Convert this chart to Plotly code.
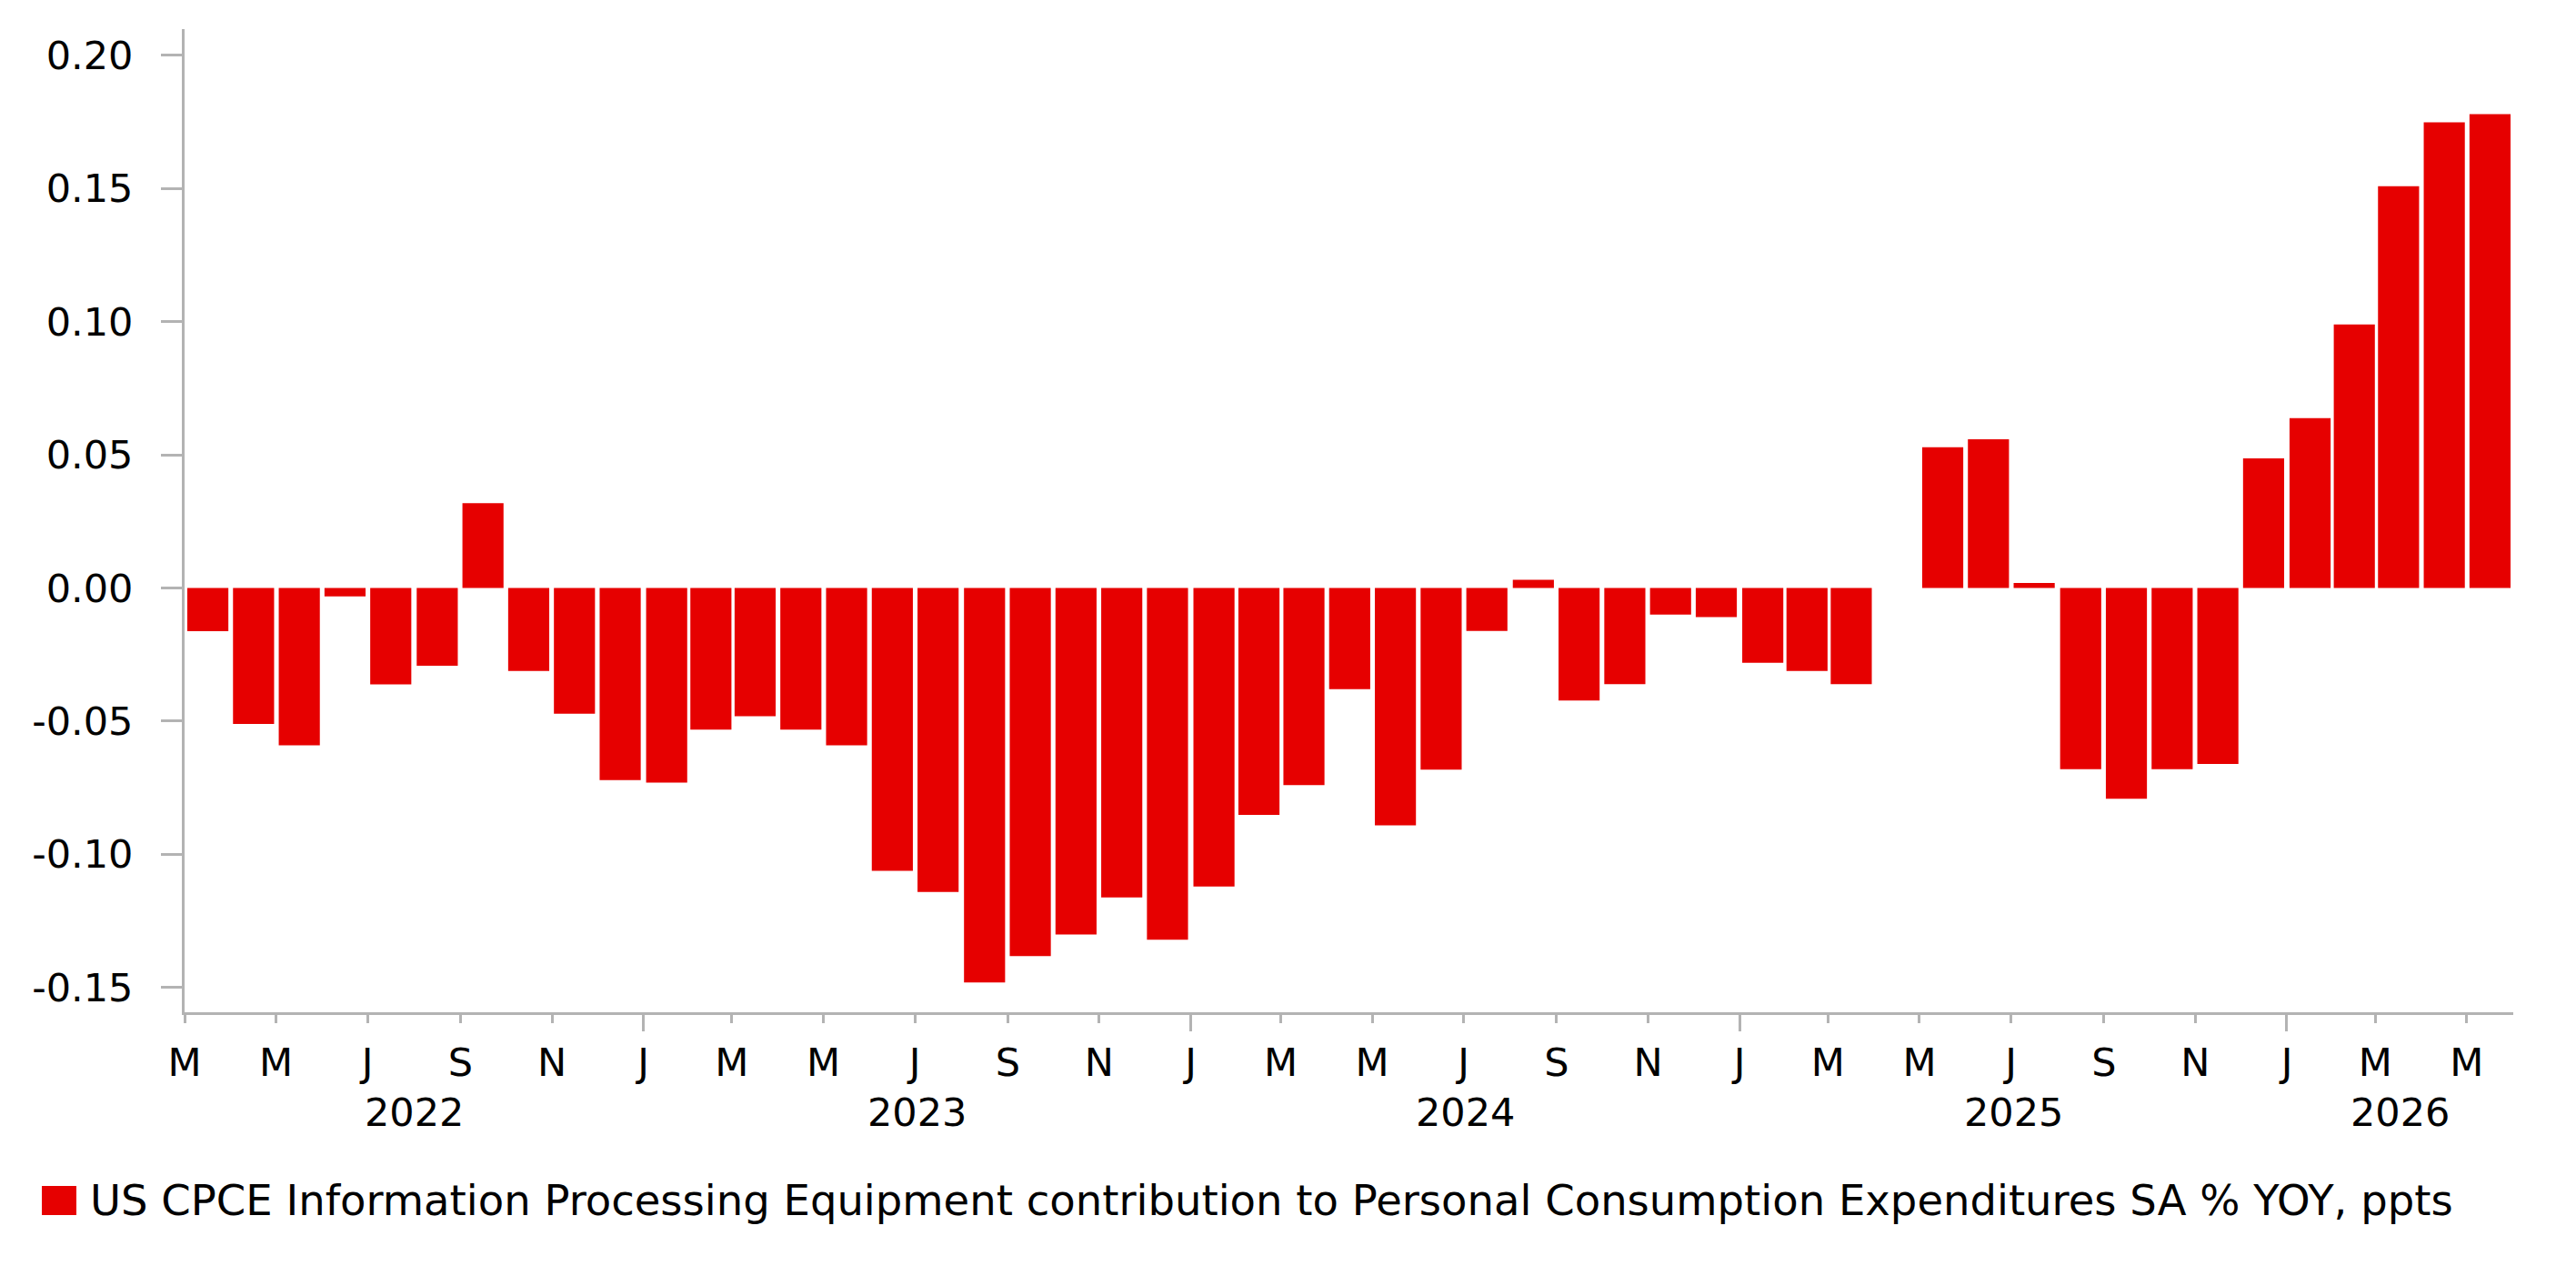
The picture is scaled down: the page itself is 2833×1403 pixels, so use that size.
import plotly.graph_objects as go
import pandas as pd

# ---------------- data ----------------
months = pd.date_range("2022-03-01", periods=51, freq="MS")
values = [
    -0.0162, -0.0510, -0.0591, -0.0031, -0.0362, -0.0292, 0.0319, -0.0311, -0.0472, -0.0721,
    -0.0731, -0.0532, -0.0481, -0.0532, -0.0591, -0.1062, -0.1141, -0.1481, -0.1382, -0.1301,
    -0.1162, -0.1321, -0.1121, -0.0852, -0.0740, -0.0380, -0.0891, -0.0682, -0.0161, 0.0031,
    -0.0422, -0.0361, -0.0100, -0.0109, -0.0281, -0.0311, -0.0361, None, 0.0529, 0.0559,
    0.0019, -0.0680, -0.0791, -0.0680, -0.0661, 0.0487, 0.0638, 0.0990, 0.1509, 0.1749,
    0.1780,
]
series_name = ("US CPCE Information Processing Equipment contribution to "
               "Personal Consumption Expenditures SA % YOY, ppts")

y_ticks = [0.20, 0.15, 0.10, 0.05, 0.00, -0.05, -0.10, -0.15]
y_tick_labels = ["0.20", "0.15", "0.10", "0.05", "0.00", "-0.05", "-0.10", "-0.15"]
month_letters = ["J", "F", "M", "A", "M", "J", "J", "A", "S", "O", "N", "D"]
years = [2022, 2023, 2024, 2025, 2026]

# ---------------- styling ----------------
W, H = 2833, 1403
OFF = 8                      # page body margin in the browser
LP, TP, RP, BP = 203, 32, 2764, 1113   # desired plot area on screen
ML, MT = LP - OFF, TP - OFF
plot_w, plot_h = RP - LP, BP - TP
MR = W - ML - plot_w
MB = H - MT - plot_h
RED = "#E60000"
AX = "#b3b3b3"
FONT = "DejaVu Sans"
FS = 43

x_start = months[0]
x_end = months[-1] + pd.offsets.MonthBegin(1)
x_tick_dates = list(months[::2])
x_tick_labels = [month_letters[d.month - 1] for d in x_tick_dates]
jan_ticks = [pd.Timestamp(f"{y}-01-01") for y in years if x_start < pd.Timestamp(f"{y}-01-01") < x_end]


def px_x(px):
    return (px - LP) / plot_w


def px_y(py):
    return (BP - py) / plot_h


fig = go.Figure()
fig.add_trace(go.Bar(
    x=months, y=values, xperiod="M1", xperiodalignment="middle",
    width=27.4 * 86400000, marker=dict(color=RED, line=dict(width=0)),
    name=series_name, showlegend=False,
))
# invisible trace to carry the long January ticks axis
fig.add_trace(go.Scatter(x=[x_start], y=[0], xaxis="x2", mode="markers",
                         marker=dict(opacity=0), hoverinfo="skip", showlegend=False))

fig.update_layout(
    width=W, height=H,
    margin=dict(l=ML, r=MR, t=MT, b=MB),
    paper_bgcolor="white", plot_bgcolor="white",
    font=dict(family=FONT, size=FS, color="black"),
    showlegend=False,
    xaxis=dict(
        type="date", range=[x_start, x_end],
        tickmode="array", tickvals=x_tick_dates, ticktext=x_tick_labels,
        ticks="outside", ticklen=9, tickwidth=3, tickcolor=AX,
        showline=True, linecolor=AX, linewidth=3,
        showgrid=False, zeroline=False,
        tickfont=dict(family=FONT, size=FS, color="black"),
        ticklabelstandoff=6,
    ),
    xaxis2=dict(
        type="date", range=[x_start, x_end], overlaying="x", anchor="y", side="bottom",
        tickmode="array", tickvals=jan_ticks, showticklabels=False,
        ticks="outside", ticklen=20, tickwidth=3, tickcolor=AX,
        showline=False, showgrid=False, zeroline=False,
    ),
    yaxis=dict(
        range=[-0.1593, 0.2099],
        tickmode="array", tickvals=y_ticks, ticktext=y_tick_labels,
        ticks="outside", ticklen=23, tickwidth=3, tickcolor=AX,
        showline=True, linecolor=AX, linewidth=3,
        showgrid=False, zeroline=False,
        tickfont=dict(family=FONT, size=FS, color="black"),
        ticklabelstandoff=22,
    ),
)

# year labels centred under the visible part of each year
for y in years:
    lo = max(pd.Timestamp(f"{y}-01-01"), x_start)
    hi = min(pd.Timestamp(f"{y + 1}-01-01"), x_end)
    if hi <= lo:
        continue
    c = lo + (hi - lo) / 2
    fig.add_annotation(x=c, y=px_y(1223), xref="x", yref="paper", text=str(y),
                       showarrow=False, xanchor="center", yanchor="middle",
                       font=dict(family=FONT, size=FS, color="black"))

# legend (drawn manually to match the large swatch)
fig.add_shape(type="rect", xref="paper", yref="paper",
              x0=px_x(46), x1=px_x(84), y0=px_y(1336), y1=px_y(1304),
              fillcolor=RED, line=dict(width=0))
fig.add_annotation(x=px_x(97), y=px_y(1320), xref="paper", yref="paper",
                   text=series_name, showarrow=False, xanchor="left", yanchor="middle",
                   font=dict(family=FONT, size=46.5, color="black"))

fig.write_html("out.html")
